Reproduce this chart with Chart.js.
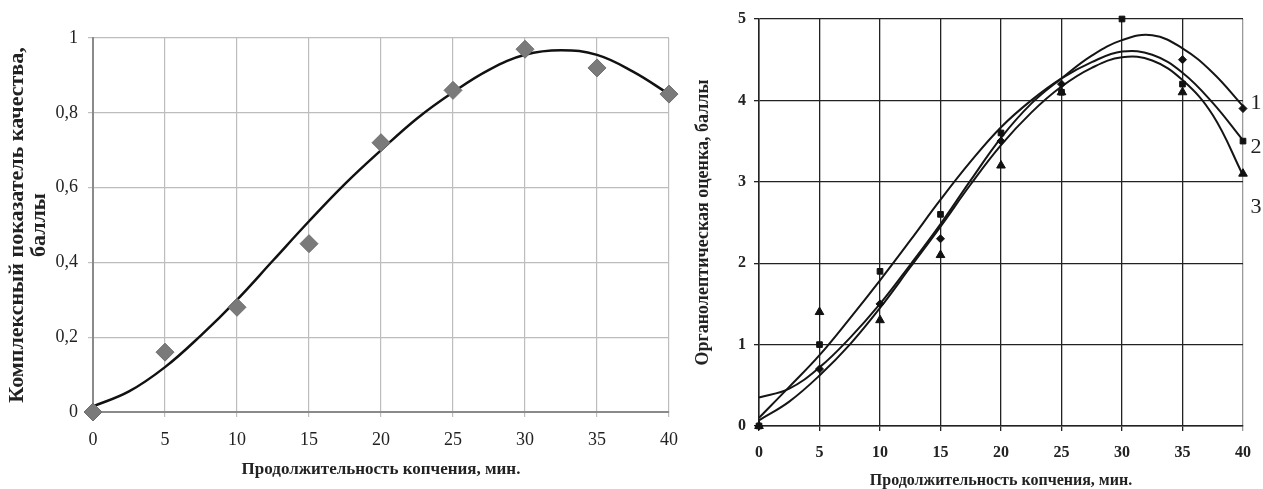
<!DOCTYPE html>
<html>
<head>
<meta charset="utf-8">
<script src="https://cdn.jsdelivr.net/npm/chart.js@4/dist/chart.umd.min.js"></script>
<style>
    body { margin: 0; background: #fff; }
    #left-box { position: absolute; left: 0; top: 0; width: 690px; height: 489px; }
    #right-box { position: absolute; left: 690px; top: 0; width: 573px; height: 489px; }
</style>
</head>
<body>
<div id="left-box"><canvas id="leftChart" width="690" height="489"></canvas></div>
<div id="right-box"><canvas id="rightChart" width="573" height="489"></canvas></div>
<script>
// smoking time, min
const minutes = [0, 5, 10, 15, 20, 25, 30, 35, 40];
const fitMinutes = [0, 2.5, 5, 7.5, 10, 12.5, 15, 17.5, 20, 22.5, 25, 27.5, 30, 32.5, 35, 37.5, 40];

// left: complex quality index
const qualityPoints = [0, 0.16, 0.28, 0.45, 0.72, 0.86, 0.97, 0.92, 0.85];
const qualityFit = [0.015, 0.055, 0.12, 0.205, 0.3, 0.405, 0.51, 0.61, 0.70, 0.785, 0.855, 0.915, 0.955, 0.967, 0.955, 0.91, 0.85];
const qualityTicks = ['0', '0,2', '0,4', '0,6', '0,8', '1'];

// right: organoleptic score, three samples
const organ1 = [0, 0.7, 1.5, 2.3, 3.5, 4.2, null, 4.5, 3.9];
const organ2 = [0, 1.0, 1.9, 2.6, 3.6, 4.1, 5.0, 4.2, 3.5];
const organ3 = [0, 1.4, 1.3, 2.1, 3.2, 4.1, null, 4.1, 3.1];
const organFit1 = [0.35, 0.46, 0.72, 1.08, 1.5, 1.98, 2.48, 3.02, 3.54, 3.96, 4.27, 4.55, 4.74, 4.8, 4.64, 4.34, 3.93];
const organFit2 = [0.1, 0.48, 0.87, 1.32, 1.79, 2.28, 2.78, 3.25, 3.67, 4.0, 4.27, 4.47, 4.6, 4.56, 4.34, 3.97, 3.51];
const organFit3 = [0.07, 0.3, 0.62, 1.0, 1.45, 1.95, 2.45, 2.97, 3.45, 3.85, 4.17, 4.4, 4.53, 4.49, 4.25, 3.82, 3.08];
const curveNames = ['1', '2', '3'];

const serif = 'Liberation Serif, Times New Roman, serif';

function pairs(xs, ys) {
    return xs.map((x, i) => ({ x: x, y: ys[i] }));
}

// left chart
new Chart(document.getElementById('leftChart'), {
    type: 'scatter',
    data: {
        datasets: [
            {
                data: pairs(fitMinutes, qualityFit),
                showLine: true,
                borderColor: '#111',
                borderWidth: 2.5,
                tension: 0.4,
                pointRadius: 0,
                order: 1
            },
            {
                data: pairs(minutes, qualityPoints),
                pointStyle: 'rectRot',
                pointRadius: 9,
                backgroundColor: '#7a7a7a',
                borderColor: '#6e6e6e',
                borderWidth: 1,
                order: 0
            }
        ]
    },
    options: {
        responsive: false,
        animation: false,
        layout: { padding: { top: 38, right: 21, left: 0, bottom: 0 } },
        plugins: { legend: { display: false }, tooltip: { enabled: false } },
        elements: { point: { hitRadius: 0 } },
        clip: false,
        scales: {
            x: {
                type: 'linear',
                min: 0,
                max: 40,
                ticks: { stepSize: 5, color: '#222', font: { family: serif, size: 18 }, padding: 12 },
                grid: { color: '#bdbdbd', lineWidth: 1.2, tickLength: 5 },
                border: { color: '#8a8a8a', width: 2 },
                title: {
                    display: true,
                    text: 'Продолжительность копчения, мин.',
                    color: '#222',
                    font: { family: serif, size: 17, weight: 'bold' },
                    padding: { top: 0, bottom: 9 }
                },
                afterFit: function(scale) { scale.height = 77; }
            },
            y: {
                min: 0,
                max: 1,
                ticks: {
                    stepSize: 0.2,
                    color: '#222',
                    font: { family: serif, size: 18 },
                    padding: 10,
                    callback: function(value) {
                        return qualityTicks[Math.round(value * 5)];
                    }
                },
                grid: { color: '#bdbdbd', lineWidth: 1.2, tickLength: 5 },
                border: { color: '#8a8a8a', width: 2 },
                title: {
                    display: true,
                    text: ['Комплексный показатель качества,', 'баллы'],
                    color: '#222',
                    font: { family: serif, size: 22, weight: 'bold', lineHeight: 1 },
                    padding: { top: 6, bottom: 0 }
                },
                afterFit: function(scale) { scale.width = 93; }
            }
        }
    }
});

// numbers 1, 2, 3 next to the curve ends
const curveLabels = {
    id: 'curveLabels',
    afterDraw(chart, args, opts) {
        const ctx = chart.ctx;
        const yScale = chart.scales.y;
        ctx.save();
        ctx.font = '22px ' + serif;
        ctx.fillStyle = '#222';
        ctx.textAlign = 'center';
        ctx.textBaseline = 'middle';
        curveNames.forEach((name, i) => {
            ctx.fillText(name, chart.chartArea.right + 13, yScale.getPixelForValue(opts.at[i]));
        });
        ctx.restore();
    }
};

const marker = (values, style, radius) => ({
    data: pairs(minutes, values),
    pointStyle: style,
    pointRadius: radius,
    backgroundColor: '#111',
    borderColor: '#111',
    borderWidth: 1,
    order: 0
});
const curve = (values) => ({
    data: pairs(fitMinutes, values),
    showLine: true,
    borderColor: '#151515',
    borderWidth: 2,
    tension: 0.4,
    pointRadius: 0,
    order: 1
});

// right chart
new Chart(document.getElementById('rightChart'), {
    type: 'scatter',
    data: {
        datasets: [
            curve(organFit1),
            curve(organFit2),
            curve(organFit3),
            marker(organ1, 'rectRot', 4),
            marker(organ2, 'rect', 4),
            marker(organ3, 'triangle', 5)
        ]
    },
    options: {
        responsive: false,
        animation: false,
        layout: { padding: { top: 19, right: 18, left: 0, bottom: 0 } },
        plugins: {
            legend: { display: false },
            tooltip: { enabled: false },
            curveLabels: { at: [3.97, 3.42, 2.69] }
        },
        elements: { point: { hitRadius: 0 } },
        clip: false,
        scales: {
            x: {
                type: 'linear',
                min: 0,
                max: 40,
                ticks: { stepSize: 5, color: '#222', font: { family: serif, size: 16, weight: 'bold' }, padding: 12 },
                grid: {
                    color: (c) => c.tick && c.tick.value === 40 ? '#9a9a9a' : '#222',
                    lineWidth: 1.3,
                    tickLength: 5
                },
                border: { color: '#222', width: 1.5 },
                title: {
                    display: true,
                    text: 'Продолжительность копчения, мин.',
                    color: '#222',
                    font: { family: serif, size: 16, weight: 'bold', lineHeight: 1 },
                    padding: { top: 0, bottom: 0 }
                },
                afterFit: function(scale) { scale.height = 63; }
            },
            y: {
                min: 0,
                max: 5,
                ticks: { stepSize: 1, color: '#222', font: { family: serif, size: 16, weight: 'bold' }, padding: 8 },
                grid: { color: '#222', lineWidth: 1.3, tickLength: 5 },
                border: { color: '#222', width: 1.5 },
                title: {
                    display: true,
                    text: 'Органолептическая оценка, баллы',
                    color: '#222',
                    font: { family: serif, size: 18, weight: 'bold' },
                    padding: { top: 3, bottom: 0 }
                },
                afterFit: function(scale) { scale.width = 69; }
            }
        }
    },
    plugins: [curveLabels]
});
</script>
</body>
</html>
